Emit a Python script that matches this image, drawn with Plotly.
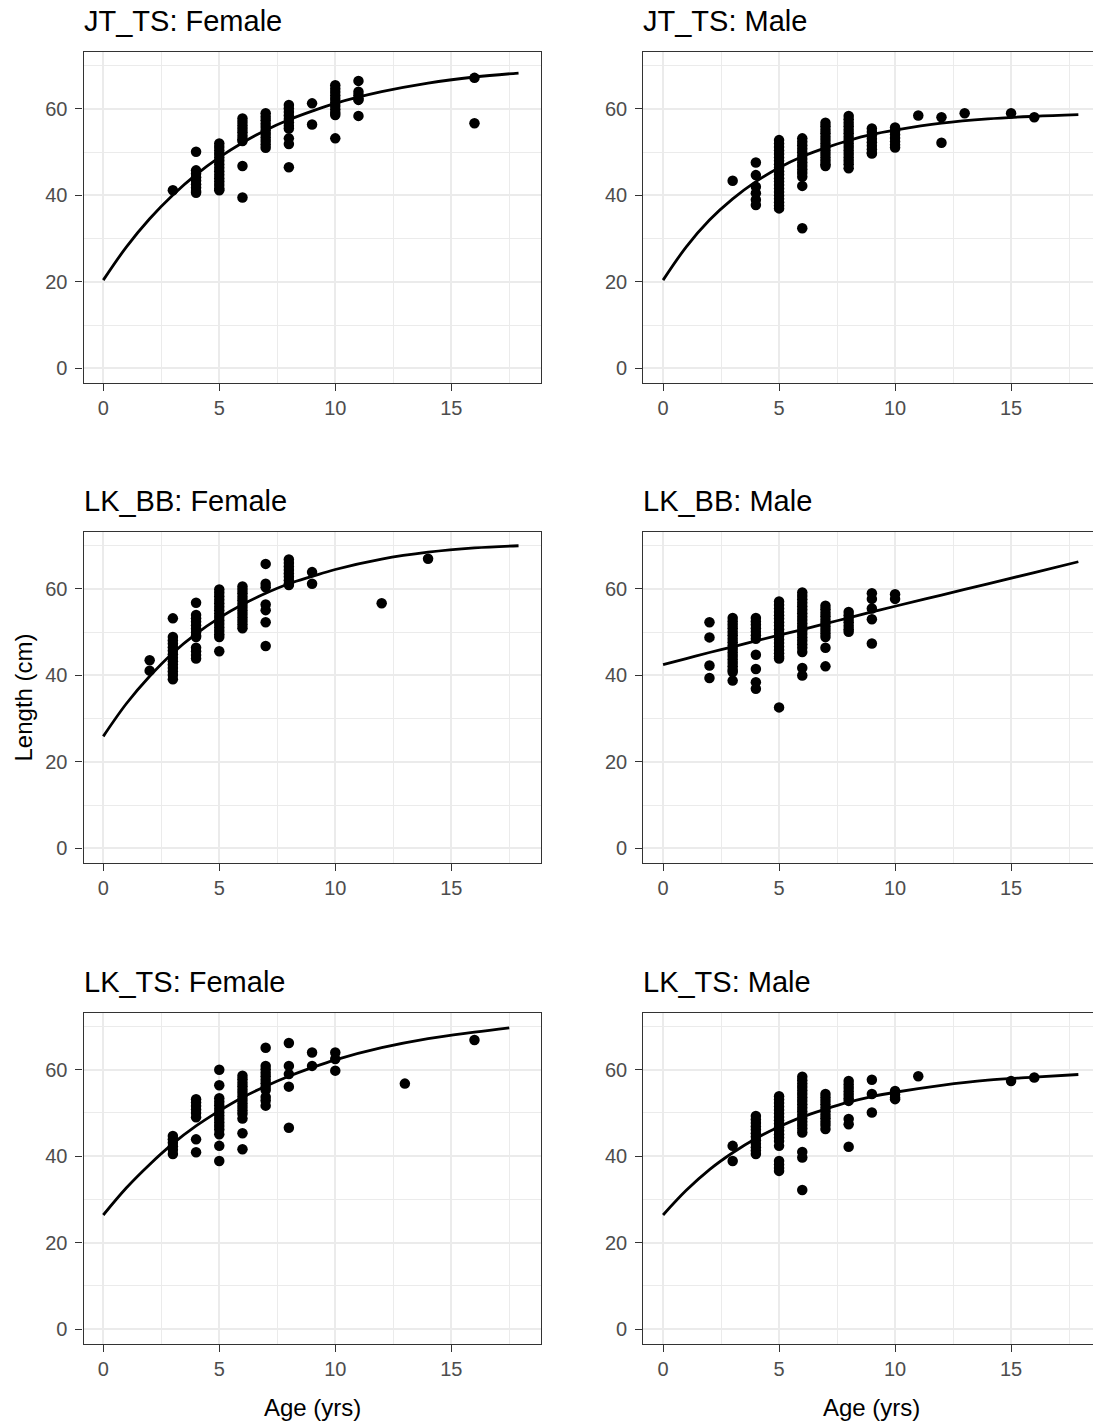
import plotly.graph_objects as go

# ---------------- data ----------------
panel_titles = ["JT_TS: Female", "JT_TS: Male",
                "LK_BB: Female", "LK_BB: Male",
                "LK_TS: Female", "LK_TS: Male"]

# observed lengths (cm) grouped by age (yrs)
jtts_f_ages = [3, 4, 5, 6, 7, 8, 9, 10, 11, 16]
jtts_f_lens = [
    [41.2],
    [50.1, 45.8, 45.0, 44.2, 43.4, 42.6, 41.8, 41.0, 40.6],
    [52.0, 51.2, 50.4, 49.6, 48.8, 48.0, 47.2, 46.4, 45.6, 44.8, 44.0, 43.2, 42.4, 41.6, 41.2],
    [57.8, 57.0, 56.2, 55.4, 54.6, 53.8, 53.0, 52.6, 46.8, 39.5],
    [59.0, 58.2, 57.4, 56.6, 55.8, 55.0, 54.2, 53.4, 52.6, 51.8, 51.0],
    [60.9, 60.1, 59.3, 58.5, 57.7, 56.9, 56.1, 55.5, 53.2, 51.9, 46.5],
    [61.3, 56.4],
    [65.5, 64.7, 63.9, 63.1, 62.3, 61.5, 60.7, 59.9, 59.1, 58.6, 53.2],
    [66.5, 64.0, 63.2, 62.4, 62.1, 58.4],
    [67.2, 56.7],
]

jtts_m_ages = [3, 4, 5, 6, 7, 8, 9, 10, 11, 12, 13, 15, 16]
jtts_m_lens = [
    [43.4],
    [47.6, 44.7, 42.0, 40.5, 39.0, 37.8],
    [52.8, 52.0, 51.2, 50.4, 49.6, 48.8, 48.0, 47.2, 46.4, 45.6, 44.8, 44.0, 43.2, 42.4,
     41.6, 40.8, 40.0, 39.2, 38.4, 37.6, 37.0],
    [53.2, 52.4, 51.6, 50.8, 50.0, 49.2, 48.4, 47.6, 46.8, 46.0, 45.2, 44.3, 42.2, 32.4],
    [56.8, 56.0, 55.2, 54.4, 53.6, 52.8, 52.0, 51.2, 50.4, 49.6, 48.8, 48.0, 47.2, 46.8],
    [58.4, 57.6, 56.8, 56.0, 55.2, 54.4, 53.6, 52.8, 52.0, 51.2, 50.4, 49.6, 48.8, 48.0,
     47.2, 46.3],
    [55.5, 54.7, 53.9, 53.1, 52.3, 51.5, 50.7, 49.9, 49.7],
    [55.7, 54.9, 54.1, 53.3, 52.5, 51.7, 51.1],
    [58.5],
    [58.1, 52.2],
    [59.0],
    [59.0],
    [58.1],
]

lkbb_f_ages = [2, 3, 4, 5, 6, 7, 8, 9, 12, 14]
lkbb_f_lens = [
    [43.5, 41.1],
    [53.2, 48.9, 48.1, 47.3, 46.5, 45.7, 44.9, 44.1, 43.3, 42.5, 41.7, 40.9, 40.1, 39.1],
    [56.8, 54.0, 53.2, 52.4, 51.6, 50.8, 50.0, 49.2, 48.9, 46.4, 45.6, 44.7, 43.9],
    [59.9, 59.1, 58.3, 57.5, 56.7, 55.9, 55.1, 54.3, 53.5, 52.7, 51.9, 51.1, 50.3, 49.5,
     48.9, 45.6],
    [60.6, 59.8, 59.0, 58.2, 57.4, 56.6, 55.8, 55.0, 54.2, 53.4, 52.6, 51.8, 50.9],
    [65.8, 61.2, 60.4, 56.4, 55.1, 52.3, 46.8],
    [66.8, 66.0, 65.2, 64.4, 63.6, 62.8, 62.0, 61.2, 60.9],
    [63.9, 61.2],
    [56.7],
    [67.0],
]

lkbb_m_ages = [2, 3, 4, 5, 6, 7, 8, 9, 10]
lkbb_m_lens = [
    [52.3, 48.8, 42.3, 39.4],
    [53.3, 52.5, 51.7, 50.9, 50.1, 49.3, 48.5, 47.7, 46.9, 46.1, 45.3, 44.5, 43.7, 42.9,
     42.1, 41.3, 40.8, 38.8],
    [53.3, 52.5, 51.7, 50.9, 50.1, 49.3, 48.5, 44.8, 41.5, 38.4, 36.9],
    [57.1, 56.3, 55.5, 54.7, 53.9, 53.1, 52.3, 51.5, 50.7, 49.9, 49.1, 48.3, 47.5, 46.7,
     45.9, 45.1, 44.3, 43.9, 32.6],
    [59.2, 58.4, 57.6, 56.8, 56.0, 55.2, 54.4, 53.6, 52.8, 52.0, 51.2, 50.4, 49.6, 48.8,
     48.0, 47.2, 46.4, 45.4, 41.7, 40.0],
    [56.1, 55.3, 54.5, 53.7, 52.9, 52.1, 51.3, 50.5, 49.7, 48.9, 46.4, 42.1],
    [54.7, 53.9, 53.1, 52.3, 51.5, 50.7, 50.1],
    [59.0, 57.7, 55.5, 53.0, 47.4],
    [58.8, 57.7],
]

lkts_f_ages = [3, 4, 5, 6, 7, 8, 9, 10, 13, 16]
lkts_f_lens = [
    [44.7, 43.9, 43.1, 42.3, 41.5, 40.5],
    [53.2, 52.4, 51.6, 50.8, 50.0, 49.0, 43.9, 40.9],
    [60.0, 56.4, 53.4, 52.6, 51.8, 51.0, 50.2, 49.4, 48.6, 47.8, 47.0, 46.2, 45.1, 42.4, 38.9],
    [58.6, 57.8, 57.0, 56.2, 55.4, 54.6, 53.8, 53.0, 52.2, 51.4, 50.6, 49.8, 48.7, 45.3, 41.6],
    [65.1, 60.9, 60.1, 59.3, 58.5, 57.7, 56.9, 56.1, 55.3, 53.7, 52.9, 51.7],
    [66.2, 60.9, 59.0, 56.1, 46.6],
    [64.0, 60.9],
    [64.0, 62.5, 59.8],
    [56.8],
    [66.9],
]

lkts_m_ages = [3, 4, 5, 6, 7, 8, 9, 10, 11, 15, 16]
lkts_m_lens = [
    [42.4, 38.9],
    [49.3, 48.5, 47.7, 46.9, 46.1, 45.3, 44.5, 43.7, 42.9, 42.1, 41.3, 40.5],
    [53.9, 53.1, 52.3, 51.5, 50.7, 49.9, 49.1, 48.3, 47.5, 46.7, 45.9, 45.1, 44.3, 43.5,
     42.4, 38.9, 38.1, 37.3, 36.6],
    [58.4, 57.6, 56.8, 56.0, 55.2, 54.4, 53.6, 52.8, 52.0, 51.2, 50.4, 49.6, 48.8, 48.0,
     47.2, 46.4, 45.5, 41.0, 39.7, 32.2],
    [54.4, 53.6, 52.8, 52.0, 51.2, 50.4, 49.6, 48.8, 48.0, 47.2, 46.3],
    [57.4, 56.6, 55.8, 55.0, 54.2, 53.4, 52.8, 48.6, 47.4, 42.2],
    [57.7, 54.4, 50.1],
    [55.1, 54.3, 53.6, 53.2],
    [58.5],
    [57.4],
    [58.2],
]

# fitted growth curves
curve_ages = [0, 1, 2, 3, 4, 5, 6, 7, 8, 9, 10, 12, 14, 16, 17.9]
curve_ages_short = [0, 1, 2, 3, 4, 5, 6, 7, 8, 9, 10, 12, 14, 16, 17.5]
jtts_f_curve = [20.4, 28.1, 34.6, 40.1, 44.8, 48.8, 52.2, 55.1, 57.5, 59.5, 61.3, 64.0, 66.0, 67.4, 68.3]
jtts_m_curve = [20.4, 28.1, 34.3, 39.2, 43.2, 46.4, 49.0, 51.0, 52.7, 54.1, 55.1, 56.7, 57.7, 58.3, 58.7]
lkbb_f_curve = [25.9, 33.5, 39.8, 45.2, 49.6, 53.3, 56.4, 59.0, 61.2, 62.9, 64.5, 66.9, 68.5, 69.5, 70.0]
lkbb_m_curve = [42.5, 43.9, 45.3, 46.6, 48.0, 49.3, 50.6, 52.0, 53.3, 54.7, 56.0, 58.6, 61.2, 63.8, 66.3]
lkts_f_curve = [26.4, 32.7, 38.1, 42.9, 47.0, 50.5, 53.6, 56.2, 58.5, 60.5, 62.3, 65.1, 67.2, 68.7, 69.7]
lkts_m_curve = [26.4, 32.1, 36.9, 40.8, 44.1, 46.8, 49.1, 50.9, 52.5, 53.8, 54.8, 56.4, 57.6, 58.3, 58.9]

x_ticks = [0, 5, 10, 15]
y_ticks = [0, 20, 40, 60]

panels = [
    (jtts_f_ages, jtts_f_lens, curve_ages, jtts_f_curve),
    (jtts_m_ages, jtts_m_lens, curve_ages, jtts_m_curve),
    (lkbb_f_ages, lkbb_f_lens, curve_ages, lkbb_f_curve),
    (lkbb_m_ages, lkbb_m_lens, curve_ages, lkbb_m_curve),
    (lkts_f_ages, lkts_f_lens, curve_ages_short, lkts_f_curve),
    (lkts_m_ages, lkts_m_lens, curve_ages, lkts_m_curve),
]

# ---------------- layout geometry ----------------
W, H = 1093, 1427
FONT = "Liberation Sans, Arial, sans-serif"
px_per_year = 23.2
col_left = [83.5, 643.3]
panel_w = 457.2
row_top = [51.7, 531.7, 1012.5]
panel_h = 331.0
y_range = [-3.33, 73.25]
GRID = "#EBEBEB"

fig = go.Figure()
annotations = []

for i, (ages, lens, cx, cy) in enumerate(panels):
    r, c = divmod(i, 2)
    n = i + 1
    xa = "x" if n == 1 else f"x{n}"
    ya = "y" if n == 1 else f"y{n}"
    px_x, px_y = [], []
    for a, ls in zip(ages, lens):
        for v in ls:
            px_x.append(a)
            px_y.append(v)
    fig.add_trace(go.Scatter(x=px_x, y=px_y, mode="markers", xaxis=xa, yaxis=ya,
                             marker=dict(color="black", size=10.5, line=dict(width=0)),
                             showlegend=False, hoverinfo="x+y"))
    fig.add_trace(go.Scatter(x=cx, y=cy, mode="lines", xaxis=xa, yaxis=ya,
                             line=dict(color="black", width=2.8, shape="spline"),
                             showlegend=False, hoverinfo="skip"))

    left = col_left[c]
    right = min(left + panel_w, W)
    x0 = -0.852
    x1 = x0 + (right - left) / px_per_year
    top = row_top[r]
    bottom = top + panel_h

    axis_common = dict(
        showgrid=True, gridcolor=GRID, gridwidth=1.5, zeroline=False,
        showline=True, linecolor="#333333", linewidth=1.2,
        ticks="outside", ticklen=7, tickwidth=1.1, tickcolor="#333333",
        tickfont=dict(family=FONT, size=20, color="#4D4D4D"),
        fixedrange=True,
    )
    fig.layout[f"xaxis{'' if n == 1 else n}"] = dict(
        axis_common, domain=[left / W, right / W], range=[x0, x1],
        anchor=ya, tickvals=x_ticks, mirror=True,
        minor=dict(dtick=2.5, tick0=0, showgrid=True, gridcolor=GRID, gridwidth=1.1),
    )
    fig.layout[f"yaxis{'' if n == 1 else n}"] = dict(
        axis_common, domain=[1 - bottom / H, 1 - top / H], range=y_range,
        anchor=xa, tickvals=y_ticks, mirror=(c == 0), ticklabelstandoff=4,
        minor=dict(dtick=10, tick0=0, showgrid=True, gridcolor=GRID, gridwidth=1.1),
    )

    annotations.append(dict(
        text=panel_titles[i], xref="paper", yref="paper",
        x=(left - 2) / W, xanchor="left", y=1 - (top - 31) / H, yanchor="middle",
        showarrow=False, font=dict(family=FONT, size=29, color="black")))

    if r == 2:
        annotations.append(dict(
            text="Age (yrs)", xref="paper", yref="paper",
            x=(left + panel_w / 2) / W, xanchor="center", y=1 - 1407 / H, yanchor="middle",
            showarrow=False, font=dict(family=FONT, size=24, color="black")))

annotations.append(dict(
    text="Length (cm)", xref="paper", yref="paper", textangle=-90,
    x=23 / W, xanchor="center", y=1 - 697.5 / H, yanchor="middle",
    showarrow=False, font=dict(family=FONT, size=24, color="black")))

fig.update_layout(
    width=W, height=H, margin=dict(l=0, r=0, t=0, b=0),
    paper_bgcolor="white", plot_bgcolor="white",
    annotations=annotations,
    font=dict(family=FONT), showlegend=False,
)

fig.write_html("out.html", config={"displayModeBar": False})
